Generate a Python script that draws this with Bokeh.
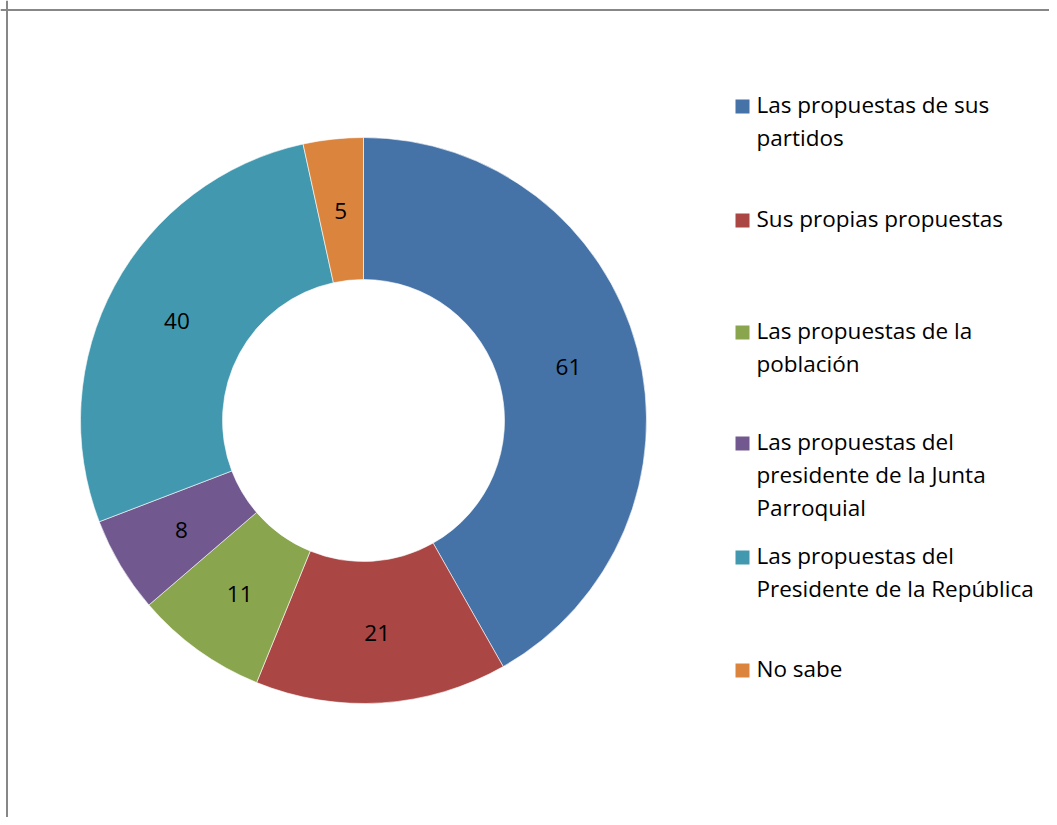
import numpy as np
from bokeh.plotting import figure
from bokeh.models import Range1d, ColumnDataSource, Span
from bokeh.core.properties import value
from bokeh.embed import file_html
from bokeh.resources import INLINE

categories = [
    "Las propuestas de sus\npartidos",
    "Sus propias propuestas",
    "Las propuestas de la\npoblación",
    "Las propuestas del\npresidente de la Junta\nParroquial",
    "Las propuestas del\nPresidente de la República",
    "No sabe",
]
values = [61, 21, 11, 8, 40, 5]
colors = ["#4572A7", "#AA4643", "#89A54E", "#71588F", "#4198AF", "#DB843D"]

W, H = 1049, 817
FONT = "Open Sans"
FS = "22.5px"

p = figure(width=W, height=H, output_backend="svg", toolbar_location=None,
           x_range=Range1d(0, W), y_range=Range1d(0, H), min_border=0)
p.axis.visible = False
p.grid.visible = False
p.outline_line_color = None
p.background_fill_color = "white"

# chart border (left and top visible)
p.add_layout(Span(location=6.5, dimension="height", line_color="#878787", line_width=2))
p.add_layout(Span(location=H - 9.5, dimension="width", line_color="#878787", line_width=2))

cx, cy = 363, H - 420
r_in, r_out = 141, 283

vals = np.array(values, dtype=float)
frac = vals / vals.sum()
ends = np.pi / 2 - 2 * np.pi * np.cumsum(frac)
starts = np.concatenate([[np.pi / 2], ends[:-1]])
src = ColumnDataSource(dict(start=starts, end=ends, color=colors))
p.annular_wedge(x=cx, y=cy, inner_radius=r_in, outer_radius=r_out,
                start_angle="start", end_angle="end", direction="clock",
                fill_color="color", line_color="white", line_width=0.6, source=src)

mid = (starts + ends) / 2
rl = (r_in + r_out) / 2
lx = cx + rl * np.cos(mid)
ly = cy + rl * np.sin(mid) - 1
p.text(x=lx, y=ly, text=[str(v) for v in values], text_align="center",
       text_baseline="alphabetic", text_font=value(FONT), text_font_size=FS,
       text_color="black")

# legend
sq_x = 742
txt_x = 756
leg_base = [114, 228, 340, 451, 565, 678]
line_h = 33
for cat, col, yb in zip(categories, colors, leg_base):
    p.rect(x=sq_x, y=H - (yb - 8), width=14, height=14, fill_color=col, line_color=None)
    for i, ln in enumerate(cat.split("\n")):
        p.text(x=[txt_x], y=[H - (yb - 10 + i * line_h)], text=[ln], text_align="left",
               text_baseline="alphabetic", text_font=value(FONT), text_font_size=FS,
               text_color="black")

open("out.html", "w").write(file_html(p, INLINE))
